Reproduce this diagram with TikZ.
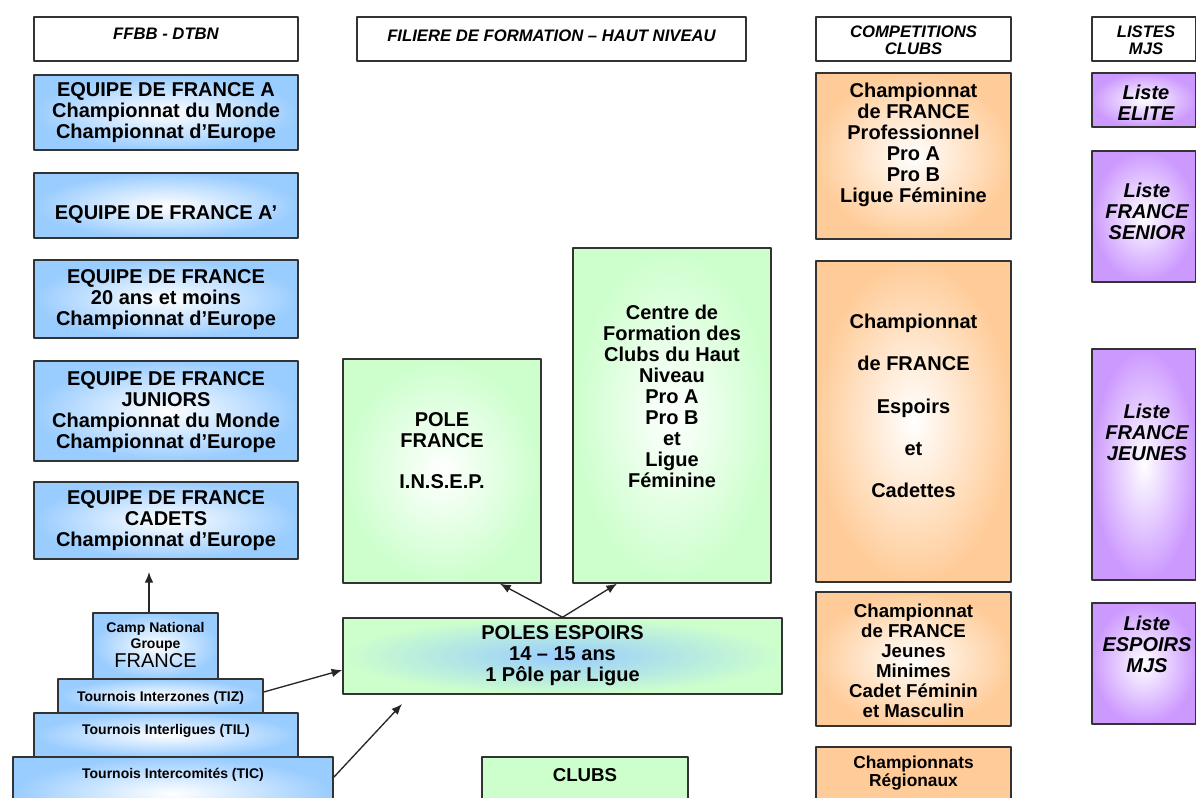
\documentclass[tikz,border=0pt]{standalone}
\usepackage{fontspec}
\setmainfont{Liberation Sans}
\usetikzlibrary{arrows.meta,fit,calc}
\definecolor{bleu}{HTML}{99CCFF}
\definecolor{vert}{HTML}{CCFFCC}
\definecolor{orangeclair}{HTML}{FFCC99}
\definecolor{violet}{HTML}{CC99FF}
\definecolor{trait}{HTML}{333333}
\begin{document}
\begin{tikzpicture}[x=0.75pt,y=-0.75pt,>={Latex[length=8pt,width=6.5pt]},line join=round,
    cadre/.style={draw=trait,line width=1.1pt,inner sep=0pt},
    entete/.style={cadre,fill=white},
    boxbleu/.style={cadre,inner color=white,outer color=bleu},
    boxvert/.style={cadre,inner color=white,outer color=vert},
    boxespoir/.style={cadre,inner color=bleu,outer color=vert},
    boxorange/.style={cadre,inner color=white,outer color=orangeclair},
    boxviolet/.style={cadre,inner color=white,outer color=violet},
    txt/.style={align=center,inner sep=0pt,yshift=-1.5pt,font=\fontsize{15}{15.75}\selectfont\bfseries},
    ttl/.style={align=center,inner sep=0pt,yshift=-0.8pt,font=\fontsize{12.5}{12.75}\selectfont\bfseries\itshape},
    petit/.style={align=center,inner sep=0pt,yshift=-1.5pt,font=\fontsize{10.5}{12}\selectfont\bfseries},
    liste/.style={align=center,inner sep=0pt,yshift=-1.5pt,font=\fontsize{15}{15.75}\selectfont\bfseries\itshape},
    fleche/.style={->,line width=1pt,draw=black!85}]
    \useasboundingbox (0,0) rectangle (1196,798);
    \clip (0,0) rectangle (1196,798);
    %En-tetes
    \node[entete,fit={(34,17) (298,61)}] (hDtbn) {};
    \node[ttl] (tDtbn) at (166,33) {FFBB - DTBN};
    \node[entete,fit={(357,17) (746,61)}] (hFil) {};
    \node[ttl] (tFil) at (551.5,35) {FILIERE DE FORMATION – HAUT NIVEAU};
    \node[entete,fit={(816,17) (1011,61)}] (hComp) {};
    \node[ttl] (tComp) at (913.5,39.5) {COMPETITIONS\\CLUBS};
    \node[entete,fit={(1092,17) (1196,61)}] (hListes) {};
    \node[ttl] (tListes) at (1146,39.5) {LISTES\\MJS};
    %Equipes de France
    \node[boxbleu,fit={(34,75) (298,150)}] (efA) {};
    \node[txt] (tEfA) at (166,111) {EQUIPE DE FRANCE A\\Championnat du Monde\\Championnat d’Europe};
    \node[boxbleu,fit={(34,173) (298,238)}] (efAp) {};
    \node[txt] (tEfAp) at (166,212) {EQUIPE DE FRANCE A’};
    \node[boxbleu,fit={(34,260) (298,338)}] (ef20) {};
    \node[txt] (tEf20) at (166,298) {EQUIPE DE FRANCE\\20 ans et moins\\Championnat d’Europe};
    \node[boxbleu,fit={(34,361) (298,461)}] (efJun) {};
    \node[txt] (tEfJun) at (166,410) {EQUIPE DE FRANCE\\JUNIORS\\Championnat du Monde\\Championnat d’Europe};
    \node[boxbleu,fit={(34,482) (298,559)}] (efCad) {};
    \node[txt] (tEfCad) at (166,519) {EQUIPE DE FRANCE\\CADETS\\Championnat d’Europe};
    %Pyramide
    \node[boxbleu,fit={(13,757) (333,830)}] (tic) {};
    \node[petit] (tTic) at (173,773) {Tournois Intercomités (TIC)};
    \node[boxbleu,fit={(34,713) (298,757)}] (til) {};
    \node[petit] (tTil) at (166,729) {Tournois Interligues (TIL)};
    \node[boxbleu,fit={(58,679) (263,713)}] (tiz) {};
    \node[petit] (tTiz) at (160.5,696) {Tournois Interzones (TIZ)};
    \node[boxbleu,fit={(93,613) (218,679)}] (camp) {};
    \node[petit,yshift=1.5pt] (tCamp) at (155.5,645) {Camp National\\Groupe\\\fontsize{15}{16}\selectfont\mdseries FRANCE};
    %Filiere
    \node[boxvert,fit={(343,359) (541,583)}] (poleFr) {};
    \node[txt] (tPoleFr) at (442,449) {POLE\\FRANCE\\[15pt]I.N.S.E.P.};
    \node[boxvert,fit={(573,248) (771,583)}] (centre) {};
    \node[txt] (tCentre) at (672,394) {Centre de\\Formation des\\Clubs du Haut\\Niveau\\Pro A\\Pro B\\et\\Ligue\\Féminine};
    \node[boxespoir,fit={(343,618) (782,694)}] (poles) {};
    \node[txt] (tPoles) at (562.5,654) {POLES ESPOIRS\\14 – 15 ans\\1 Pôle par Ligue};
    \node[cadre,fill=vert,fit={(482,757) (688,830)}] (clubs) {};
    \node[txt,font=\fontsize{14}{15}\selectfont\bfseries] (tClubs) at (585,773) {CLUBS};
    %Competitions
    \node[boxorange,fit={(816,73) (1011,239)}] (chPro) {};
    \node[txt] (tChPro) at (913.5,143) {Championnat\\de FRANCE\\Professionnel\\Pro A\\Pro B\\Ligue Féminine};
    \node[boxorange,fit={(816,261) (1011,582)}] (chEsp) {};
    \node[txt] (tChEsp) at (913.5,404) {Championnat\\[16pt]de FRANCE\\[16pt]Espoirs\\[16pt]et\\[16pt]Cadettes};
    \node[boxorange,fit={(816,592) (1011,726)}] (chJeunes) {};
    \node[txt,font=\fontsize{14}{15}\selectfont\bfseries] (tChJeunes) at (913.5,658.5) {Championnat\\de FRANCE\\Jeunes\\Minimes\\Cadet Féminin\\et Masculin};
    \node[cadre,fill=orangeclair,fit={(816,747) (1011,830)}] (chReg) {};
    \node[txt,font=\fontsize{13}{13.5}\selectfont\bfseries] (tChReg) at (913.5,771) {Championnats\\Régionaux};
    %Listes
    \node[boxviolet,fit={(1092,73) (1196,127)}] (lElite) {};
    \node[liste] (tElite) at (1146,100.5) {Liste\\ELITE};
    \node[boxviolet,fit={(1092,151) (1196,282)}] (lSenior) {};
    \node[liste] (tSenior) at (1147,209.5) {Liste\\FRANCE\\SENIOR};
    \node[boxviolet,fit={(1092,349) (1196,580)}] (lJeunes) {};
    \node[liste] (tJeunes) at (1147,430) {Liste\\FRANCE\\JEUNES};
    \node[boxviolet,fit={(1092,603) (1196,724)}] (lEspoirs) {};
    \node[liste] (tEspoirs) at (1147,642) {Liste\\ESPOIRS\\MJS};
    %Fleches
    \coordinate (campTip) at (149,572);
    \coordinate (polesIn) at (402,704);
    \draw[fleche] (camp.north -| campTip) -- (campTip);
    \draw[fleche] ($(tiz.east)+(0,-4)$) -- ($(poles.west)+(0,14)$);
    \draw[fleche] ($(tic.north east)+(0,21)$) -- (polesIn);
    \draw[fleche] (poles.north) -- ($(poleFr.south)+(58,0)$);
    \draw[fleche] (poles.north) -- ($(centre.south)+(-55,0)$);
\end{tikzpicture}
\end{document}
